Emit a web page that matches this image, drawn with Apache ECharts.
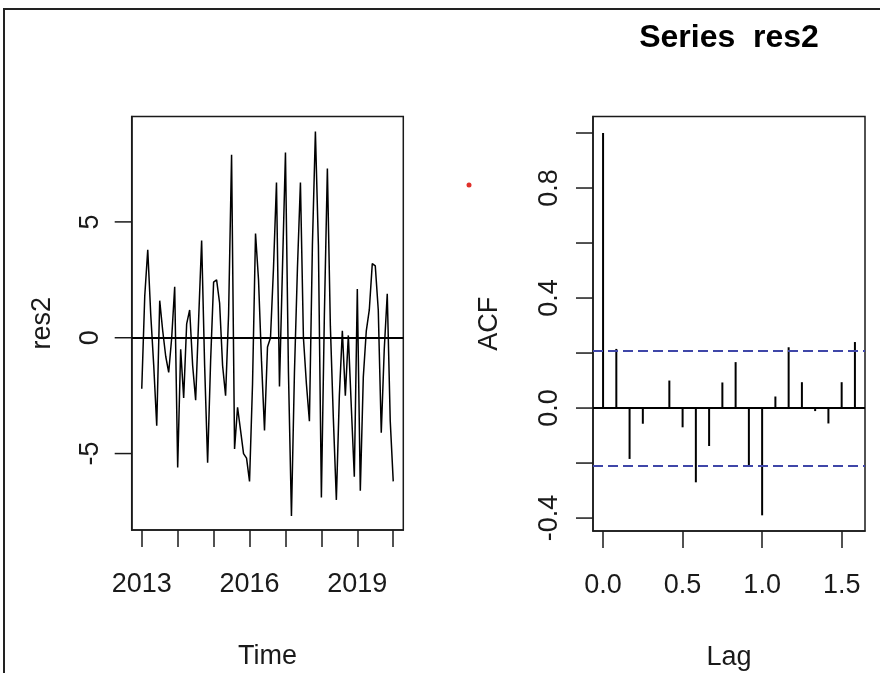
<!DOCTYPE html>
<html>
<head>
<meta charset="utf-8">
<script src="https://cdn.jsdelivr.net/npm/echarts@6/dist/echarts.min.js"></script>
<style>
html,body{margin:0;padding:0;background:#fff;}
#main{width:880px;height:673px;}
</style>
</head>
<body>
<div id="main"></div>
<script>
// monthly residual series, Jan 2013 .. Jan 2020
var startYear = 2013;
var freq = 12;
var res2 = [
	-2.2, 1.8, 3.8, 1.0, -1.2, -3.8, 1.6, 0.3, -0.8, -1.5, 0.0, 2.2,
	-5.6, -0.5, -2.6, 0.6, 1.2, -1.2, -2.7, 0.8, 4.2, -1.2, -5.4, -1.0,
	2.4, 2.5, 1.5, -1.2, -2.5, 1.0, 7.9, -4.8, -3.0, -4.0, -5.0, -5.2,
	-6.2, -2.0, 4.5, 2.5, -1.0, -4.0, -0.4, 0.0, 3.0, 6.7, -2.1, 3.0,
	8.0, -1.5, -7.7, -1.5, 3.0, 6.7, 0.0, -2.0, -3.6, 4.0, 8.9, 4.0,
	-6.9, 1.0, 7.3, 0.5, -3.5, -7.0, -2.5, 0.3, -2.5, 0.1, -3.0, -6.0,
	2.1, -6.6, -1.7, 0.3, 1.2, 3.2, 3.1, 1.2, -4.1, -0.5, 1.9, -3.6,
	-6.2
];
// acf of res2, lags 0..19 (in years, lag k = k/12)
var acfVals = [
	1.0, 0.215, -0.185, -0.057, 0.003, 0.10, -0.07, -0.27, -0.138, 0.093,
	0.167, -0.213, -0.39, 0.042, 0.221, 0.094, -0.011, -0.056, 0.094, 0.24
];
var ciBound = 0.2126;

var timeTicks = [2013, 2014, 2015, 2016, 2017, 2018, 2019, 2020];
var timeLabels = [2013, 2016, 2019];
var resTicks = [-5, 0, 5];
var resLabels = [-5, 0, 5];
var lagTicks = [0, 0.5, 1, 1.5];
var lagLabels = [0, 0.5, 1, 1.5];
var acfTicks = [-0.4, -0.2, 0, 0.2, 0.4, 0.6, 0.8, 1.0];
var acfLabels = [-0.4, 0, 0.4, 0.8];

var FONT = "'Liberation Sans',Arial,sans-serif";
var INK = '#1a1a1a';
var TICK_LEN = 17;

var tsData = [];
for (var i = 0; i < res2.length; i++) {
	tsData.push([startYear + i / freq, res2[i]]);
}
var acfData = [];
for (var k = 0; k < acfVals.length; k++) {
	acfData.push([k / freq, acfVals[k]]);
}

axisBase = function(grid, name, gap, ticks, labels, fmt, isY){
	return {
		type: 'value',
		gridIndex: grid,
		name: name,
		nameLocation: 'middle',
		nameGap: gap,
		nameTextStyle: {fontFamily: FONT, fontSize: 27, color: INK},
		axisLine: {show: true, onZero: false, lineStyle: {color: INK, width: 1.5}},
		axisTick: {show: !isY, inside: false, length: TICK_LEN, customValues: ticks || [], lineStyle: {color: INK, width: 1.5}},
		axisLabel: {
			show: !isY,
			customValues: labels || [],
			formatter: fmt,
			fontFamily: FONT,
			fontSize: 27,
			color: INK,
			margin: 41
		},
		splitLine: {show: false}
	};
};

// y ticks + rotated y labels drawn through the axis scale
// (the built-in ones drop ticks under rotated labels)
yTickSeries = function(grid, xMin, ticks, labels, fmt, margin){
	var d = [];
	for (var t = 0; t < ticks.length; t++) {
		d.push([xMin, ticks[t], labels.indexOf(ticks[t]) >= 0 ? 1 : 0]);
	}
	return {
		type: 'custom',
		xAxisIndex: grid,
		yAxisIndex: grid,
		data: d,
		clip: false,
		silent: true,
		z: 5,
		renderItem: function(params, api){
			var p = api.coord([api.value(0), api.value(1)]);
			var kids = [{
				type: 'line',
				shape: {x1: p[0] - TICK_LEN, y1: p[1], x2: p[0], y2: p[1]},
				style: {stroke: INK, lineWidth: 1.5}
			}];
			if (api.value(2) === 1) {
				kids.push({
					type: 'text',
					x: p[0] - margin,
					y: p[1],
					rotation: Math.PI / 2,
					style: {
						text: fmt(api.value(1)),
						fontFamily: FONT,
						fontSize: 27,
						fill: INK,
						align: 'center',
						verticalAlign: 'bottom'
					}
				});
			}
			return {type: 'group', children: kids};
		}
	};
};

var chart = echarts.init(document.getElementById('main'));

var xTime = axisBase(0, 'Time', 113, timeTicks, timeLabels, function(v){ return String(v); }, false);
xTime.min = 2012.72; xTime.max = 2020.28;
var xLag = axisBase(1, 'Lag', 113, lagTicks, lagLabels, function(v){ return v.toFixed(1); }, false);
xLag.min = -0.0633; xLag.max = 1.6467;
var yRes = axisBase(0, 'res2', 76, null, null, null, true);
yRes.min = -8.3; yRes.max = 9.55;
var yAcf = axisBase(1, 'ACF', 90, null, null, null, true);
yAcf.min = -0.447; yAcf.max = 1.06;

option = {
	animation: false,
	backgroundColor: '#fff',
	title: {
		text: 'Series  res2',
		left: 729,
		top: 22,
		padding: 0,
		textAlign: 'center',
		textStyle: {fontFamily: FONT, fontSize: 32, fontWeight: 'bold', color: '#000'}
	},
	grid: [
		{left: 131.7, top: 116.5, width: 271.6, height: 413.5, show: true, outerBoundsMode: 'none', containLabel: false, borderColor: INK, borderWidth: 1.5, backgroundColor: 'transparent'},
		{left: 593, top: 116.5, width: 272, height: 414.5, show: true, outerBoundsMode: 'none', containLabel: false, borderColor: INK, borderWidth: 1.5, backgroundColor: 'transparent'}
	],
	xAxis: [xTime, xLag],
	yAxis: [yRes, yAcf],
	graphic: [
		{type: 'rect', shape: {x: 4, y: 9, width: 1000, height: 1000}, style: {fill: 'none', stroke: '#222', lineWidth: 2}, silent: true},
		{type: 'circle', shape: {cx: 469, cy: 185, r: 2.5}, style: {fill: '#e0302a'}, silent: true}
	],
	series: [
		{
			type: 'line',
			xAxisIndex: 0,
			yAxisIndex: 0,
			data: tsData,
			showSymbol: false,
			lineStyle: {color: '#000', width: 1.5},
			markLine: {
				silent: true,
				symbol: ['none', 'none'],
				label: {show: false},
				lineStyle: {color: '#000', width: 1.8, type: 'solid'},
				data: [{yAxis: 0}]
			}
		},
		{
			type: 'bar',
			xAxisIndex: 1,
			yAxisIndex: 1,
			data: acfData,
			barWidth: 2,
			itemStyle: {color: '#000'},
			markLine: {
				silent: true,
				symbol: ['none', 'none'],
				label: {show: false},
				data: [
					{yAxis: 0, lineStyle: {color: '#000', width: 1.8, type: 'solid'}},
					{yAxis: ciBound, lineStyle: {color: '#3f46a8', width: 2, type: [10, 5]}},
					{yAxis: -ciBound, lineStyle: {color: '#3f46a8', width: 2, type: [10, 5]}}
				]
			}
		},
		yTickSeries(0, xTime.min, resTicks, resLabels, function(v){ return String(v); }, 28),
		yTickSeries(1, xLag.min, acfTicks, acfLabels, function(v){ return v.toFixed(1); }, 30)
	]
};
chart.setOption(option);
</script>
</body>
</html>
